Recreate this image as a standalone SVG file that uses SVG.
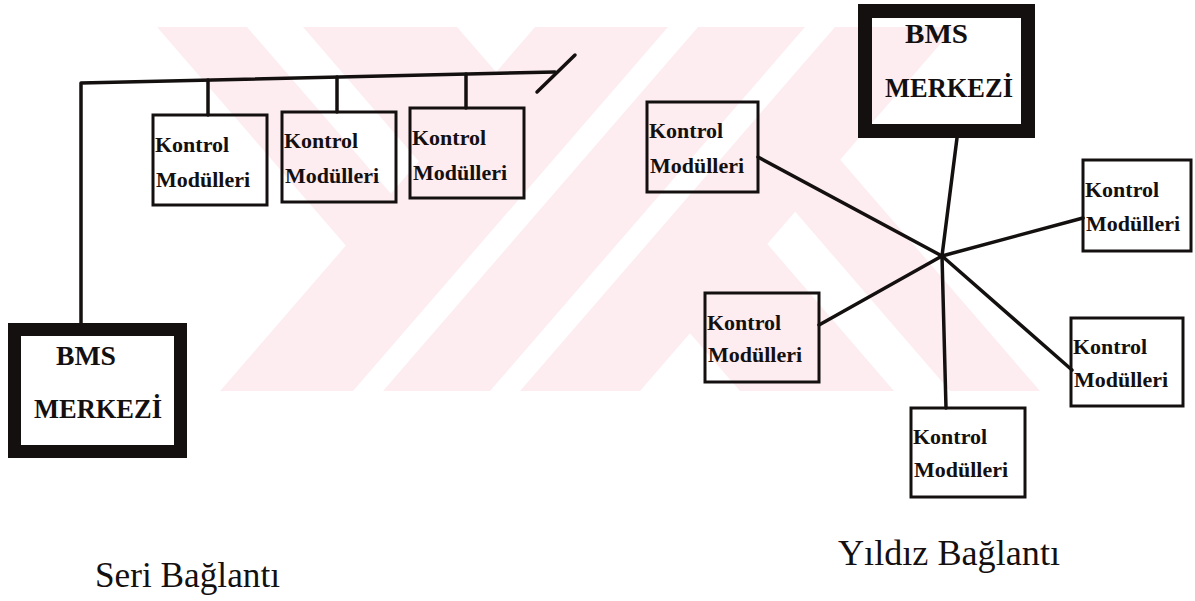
<svg xmlns="http://www.w3.org/2000/svg" width="1195" height="601" viewBox="0 0 1195 601">
  <defs>
    <style>
      .wm { fill: #fdedf0; stroke: none; }
      .box { fill: none; stroke: #141010; stroke-width: 3; }
      .bms { fill: none; stroke: #141010; stroke-width: 13; }
      .wire { fill: none; stroke: #141010; stroke-width: 3.5; stroke-linecap: round; stroke-linejoin: round; }
      .km { font-family: "Liberation Serif", "Times New Roman", serif; font-weight: bold; font-size: 22px; fill: #141010; }
      .bt { font-family: "Liberation Serif", "Times New Roman", serif; font-weight: bold; font-size: 27px; fill: #141010; }
      .lbl { font-family: "Liberation Serif", "Times New Roman", serif; font-size: 35px; fill: #141010; }
    </style>
    <clipPath id="wmclip">
      <rect x="150" y="27" width="960" height="364"/>
    </clipPath>
  </defs>
  <rect x="0" y="0" width="1195" height="601" fill="#ffffff"/>

  <g id="watermark" clip-path="url(#wmclip)">
    <polygon class="wm" points="220,391 353,391 668,27 535,27"/>
    <polygon class="wm" points="383,391 490,391 805,27 698,27"/>
    <polygon class="wm" points="520,391 640,391 955,27 835,27"/>
    <polygon class="wm" points="157,27 247,27 424,232 379,284"/>
    <polygon class="wm" points="303,27 457,27 529,110 452,200"/>
    <polygon class="wm" points="1040,391 950,391 773,186 818,134"/>
    <polygon class="wm" points="894,391 740,391 668,308 745,218"/>
  </g>

  <g id="connectors">
    <polyline class="wire" points="81,325 81,83 555,72"/>
    <line class="wire" x1="208" y1="80" x2="208" y2="115"/>
    <line class="wire" x1="337" y1="77" x2="337" y2="112"/>
    <line class="wire" x1="466" y1="74" x2="466" y2="108"/>
    <line class="wire" x1="537" y1="92" x2="575" y2="55"/>
    <line class="wire" x1="942" y1="256" x2="957" y2="138"/>
    <line class="wire" x1="942" y1="256" x2="758" y2="157"/>
    <line class="wire" x1="942" y1="256" x2="1083" y2="218"/>
    <line class="wire" x1="942" y1="256" x2="819" y2="325"/>
    <line class="wire" x1="942" y1="256" x2="946" y2="408"/>
    <line class="wire" x1="942" y1="256" x2="1072" y2="370"/>
  </g>

  <g id="serial-bms">
    <rect class="bms" x="14.5" y="329.5" width="166" height="122" fill="#ffffff"/>
    <text class="bt" x="56" y="365" textLength="60" lengthAdjust="spacingAndGlyphs">BMS</text>
    <text class="bt" x="34" y="418" textLength="128" lengthAdjust="spacingAndGlyphs">MERKEZİ</text>
  </g>

  <g id="serial-km1">
    <rect class="box" x="153" y="115" width="114" height="90"/>
    <text class="km" x="155" y="152">Kontrol</text>
    <text class="km" x="156" y="187">Modülleri</text>
  </g>
  <g id="serial-km2">
    <rect class="box" x="282" y="112" width="114" height="90"/>
    <text class="km" x="284" y="148">Kontrol</text>
    <text class="km" x="285" y="183">Modülleri</text>
  </g>
  <g id="serial-km3">
    <rect class="box" x="410" y="108" width="114" height="90"/>
    <text class="km" x="412" y="145">Kontrol</text>
    <text class="km" x="413" y="180">Modülleri</text>
  </g>

  <g id="star-bms">
    <rect x="865" y="11" width="163" height="120" fill="none" stroke="#141010" stroke-width="14"/>
    <text class="bt" x="905" y="43" textLength="63" lengthAdjust="spacingAndGlyphs">BMS</text>
    <text class="bt" x="885" y="97" textLength="128" lengthAdjust="spacingAndGlyphs">MERKEZİ</text>
  </g>

  <g id="star-km-topleft">
    <rect class="box" x="647" y="102" width="111" height="90"/>
    <text class="km" x="649" y="138">Kontrol</text>
    <text class="km" x="650" y="173">Modülleri</text>
  </g>
  <g id="star-km-right">
    <rect class="box" x="1083" y="160" width="108" height="91"/>
    <text class="km" x="1085" y="197">Kontrol</text>
    <text class="km" x="1086" y="231">Modülleri</text>
  </g>
  <g id="star-km-bottomleft">
    <rect class="box" x="705" y="293" width="114" height="89"/>
    <text class="km" x="707" y="330">Kontrol</text>
    <text class="km" x="708" y="362">Modülleri</text>
  </g>
  <g id="star-km-bottomright">
    <rect class="box" x="1071" y="318" width="112" height="88"/>
    <text class="km" x="1073" y="354">Kontrol</text>
    <text class="km" x="1074" y="387">Modülleri</text>
  </g>
  <g id="star-km-bottom">
    <rect class="box" x="911" y="408" width="114" height="89"/>
    <text class="km" x="913" y="444">Kontrol</text>
    <text class="km" x="914" y="477">Modülleri</text>
  </g>

  <g id="labels">
    <text class="lbl" x="95" y="587" textLength="185" lengthAdjust="spacingAndGlyphs">Seri Bağlantı</text>
    <text class="lbl" x="838" y="565" textLength="222" lengthAdjust="spacingAndGlyphs">Yıldız Bağlantı</text>
  </g>
</svg>
